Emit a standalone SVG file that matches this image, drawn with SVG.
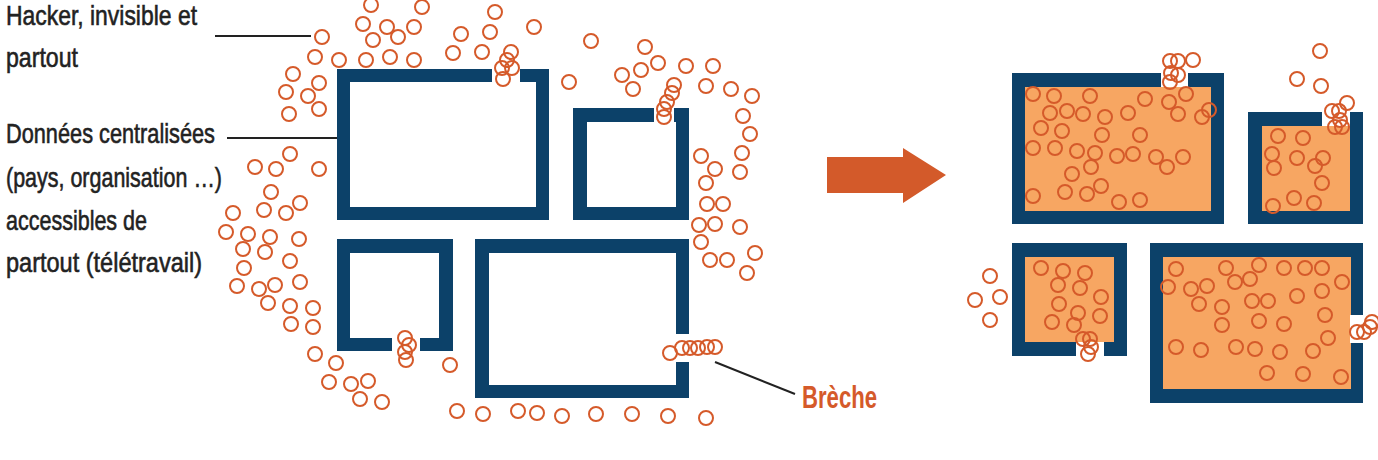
<svg xmlns="http://www.w3.org/2000/svg" xmlns:xlink="http://www.w3.org/1999/xlink" width="1378" height="460" viewBox="0 0 1378 460">
  <style>
    .frame { fill: #0c4169; }
    .room { fill: #ffffff; }
    .room-full { fill: #f7a662; }
    .gap { fill: #ffffff; }
    .h { fill: none; stroke: #d55a2a; stroke-width: 2; }
    .label { font-family: "Liberation Sans", Arial, sans-serif; font-size: 28px; fill: #222222; stroke: #222222; stroke-width: 0.6; }
    .accent { font-family: "Liberation Sans", Arial, sans-serif; font-size: 32px; font-weight: bold; fill: #d55a2a; }
    .lead { stroke: #222222; stroke-width: 2; fill: none; }
  </style>

  <!-- Labels -->
  <g id="label-hacker">
    <text class="label" x="6" y="25" textLength="191" lengthAdjust="spacingAndGlyphs">Hacker, invisible et</text>
    <text class="label" x="6" y="67" textLength="72" lengthAdjust="spacingAndGlyphs">partout</text>
  </g>
  <g id="label-data">
    <text class="label" x="6" y="143" textLength="209" lengthAdjust="spacingAndGlyphs">Données centralisées</text>
    <text class="label" x="6" y="187" textLength="216" lengthAdjust="spacingAndGlyphs">(pays, organisation …)</text>
    <text class="label" x="6" y="230" textLength="141" lengthAdjust="spacingAndGlyphs">accessibles de</text>
    <text class="label" x="6" y="272" textLength="196" lengthAdjust="spacingAndGlyphs">partout (télétravail)</text>
  </g>
  <g id="label-breche">
    <text class="accent" x="802" y="408" textLength="75" lengthAdjust="spacingAndGlyphs">Brèche</text>
  </g>

  <!-- Connectors -->
  <g id="connectors">
    <line class="lead" x1="215" y1="36" x2="311" y2="36"/>
    <line class="lead" x1="227" y1="138" x2="338" y2="138"/>
    <line class="lead" x1="715" y1="362" x2="795" y2="394"/>
  </g>

  <!-- Before: rooms with a single breach each -->
  <g id="room-a">
    <rect class="frame" x="337" y="69" width="212" height="151"/>
    <rect class="room" x="350" y="82" width="186" height="125"/>
    <rect class="gap" x="492" y="68" width="28" height="15"/>
  </g>
  <g id="room-b">
    <rect class="frame" x="573" y="108" width="116" height="112"/>
    <rect class="room" x="587" y="122" width="89" height="85"/>
    <rect class="gap" x="654" y="107" width="20" height="16"/>
  </g>
  <g id="room-c">
    <rect class="frame" x="337" y="239" width="116" height="112"/>
    <rect class="room" x="350" y="253" width="89" height="85"/>
    <rect class="gap" x="392" y="337" width="28" height="15"/>
  </g>
  <g id="room-d">
    <rect class="frame" x="475" y="239" width="214" height="159"/>
    <rect class="room" x="489" y="253" width="187" height="132"/>
    <rect class="gap" x="675" y="334" width="15" height="28"/>
  </g>

  <!-- Transition arrow -->
  <g id="arrow">
    <polygon fill="#d35a2a" points="827,157 903,157 903,148 946,175 903,203 903,193 827,193"/>
  </g>

  <!-- After: rooms filled -->
  <g id="room-a-full">
    <rect class="frame" x="1012" y="73" width="212" height="151"/>
    <rect class="room-full" x="1025" y="87" width="186" height="124"/>
    <rect class="gap" x="1161" y="72" width="27" height="15"/>
  </g>
  <g id="room-b-full">
    <rect class="frame" x="1248" y="112" width="115" height="112"/>
    <rect class="room-full" x="1262" y="126" width="88" height="85"/>
    <rect class="gap" x="1322" y="111" width="28" height="15"/>
  </g>
  <g id="room-c-full">
    <rect class="frame" x="1012" y="243" width="115" height="113"/>
    <rect class="room-full" x="1025" y="257" width="89" height="85"/>
    <rect class="gap" x="1076" y="342" width="28" height="15"/>
  </g>
  <g id="room-d-full">
    <rect class="frame" x="1150" y="243" width="213" height="160"/>
    <rect class="room-full" x="1163" y="257" width="188" height="132"/>
    <rect class="gap" x="1350" y="315" width="14" height="28"/>
  </g>

  <!-- Intruders around the rooms -->
  <g id="swarm-before" class="h">
    <circle cx="322" cy="37" r="7"/><circle cx="315" cy="57" r="7"/><circle cx="339" cy="60" r="7"/>
    <circle cx="293" cy="74" r="7"/><circle cx="319" cy="83" r="7"/><circle cx="286" cy="92" r="7"/>
    <circle cx="308" cy="96" r="7"/><circle cx="319" cy="109" r="7"/><circle cx="289" cy="114" r="7"/>
    <circle cx="290" cy="154" r="7"/><circle cx="255" cy="167" r="7"/><circle cx="276" cy="169" r="7"/>
    <circle cx="319" cy="169" r="7"/><circle cx="271" cy="192" r="7"/><circle cx="300" cy="203" r="7"/>
    <circle cx="264" cy="210" r="7"/><circle cx="286" cy="213" r="7"/><circle cx="233" cy="213" r="7"/>
    <circle cx="226" cy="232" r="7"/><circle cx="248" cy="234" r="7"/><circle cx="270" cy="237" r="7"/>
    <circle cx="299" cy="239" r="7"/><circle cx="243" cy="249" r="7"/><circle cx="265" cy="252" r="7"/>
    <circle cx="290" cy="261" r="7"/><circle cx="244" cy="268" r="7"/><circle cx="237" cy="286" r="7"/>
    <circle cx="259" cy="289" r="7"/><circle cx="275" cy="285" r="7"/><circle cx="300" cy="282" r="7"/>
    <circle cx="268" cy="303" r="7"/><circle cx="290" cy="306" r="7"/><circle cx="313" cy="308" r="7"/>
    <circle cx="291" cy="324" r="7"/><circle cx="313" cy="327" r="7"/><circle cx="315" cy="354" r="7"/>
    <circle cx="336" cy="363" r="7"/><circle cx="329" cy="382" r="7"/><circle cx="351" cy="384" r="7"/>
    <circle cx="368" cy="381" r="7"/><circle cx="360" cy="399" r="7"/><circle cx="382" cy="402" r="7"/>
    <circle cx="450" cy="365" r="7"/>
    <!-- lower row -->
    <circle cx="457" cy="411" r="7"/><circle cx="483" cy="414" r="7"/><circle cx="518" cy="411" r="7"/>
    <circle cx="537" cy="413" r="7"/><circle cx="562" cy="416" r="7"/><circle cx="596" cy="414" r="7"/>
    <circle cx="632" cy="414" r="7"/><circle cx="668" cy="416" r="7"/><circle cx="706" cy="418" r="7"/>
    <!-- top -->
    <circle cx="371" cy="5" r="7"/><circle cx="422" cy="7" r="7"/><circle cx="363" cy="24" r="7"/>
    <circle cx="387" cy="27" r="7"/><circle cx="414" cy="27" r="7"/><circle cx="373" cy="40" r="7"/>
    <circle cx="398" cy="37" r="7"/><circle cx="495" cy="12" r="7"/><circle cx="461" cy="34" r="7"/>
    <circle cx="490" cy="32" r="7"/><circle cx="534" cy="27" r="7"/><circle cx="366" cy="60" r="7"/>
    <circle cx="390" cy="57" r="7"/><circle cx="414" cy="60" r="7"/><circle cx="453" cy="53" r="7"/>
    <circle cx="482" cy="52" r="7"/><circle cx="569" cy="82" r="7"/><circle cx="591" cy="41" r="7"/>
    <circle cx="645" cy="47" r="7"/><circle cx="622" cy="75" r="7"/><circle cx="641" cy="70" r="7"/>
    <circle cx="658" cy="63" r="7"/><circle cx="686" cy="66" r="7"/><circle cx="713" cy="66" r="7"/>
    <circle cx="633" cy="89" r="7"/><circle cx="706" cy="86" r="7"/><circle cx="731" cy="89" r="7"/>
    <!-- right side -->
    <circle cx="752" cy="96" r="7"/><circle cx="743" cy="116" r="7"/><circle cx="750" cy="134" r="7"/>
    <circle cx="701" cy="156" r="7"/><circle cx="742" cy="153" r="7"/><circle cx="715" cy="169" r="7"/>
    <circle cx="740" cy="172" r="7"/><circle cx="706" cy="183" r="7"/><circle cx="707" cy="204" r="7"/>
    <circle cx="723" cy="204" r="7"/><circle cx="699" cy="225" r="7"/><circle cx="715" cy="224" r="7"/>
    <circle cx="740" cy="227" r="7"/><circle cx="701" cy="242" r="7"/><circle cx="755" cy="253" r="7"/>
    <circle cx="710" cy="260" r="7"/><circle cx="727" cy="260" r="7"/><circle cx="747" cy="273" r="7"/>
    <!-- at the breaches -->
    <circle cx="511" cy="52" r="7"/><circle cx="507" cy="60" r="7"/><circle cx="502" cy="68" r="7"/>
    <circle cx="512" cy="68" r="7"/><circle cx="503" cy="79" r="7"/>
    <circle cx="674" cy="85" r="7"/><circle cx="672" cy="93" r="7"/><circle cx="667" cy="102" r="7"/>
    <circle cx="664" cy="109" r="7"/><circle cx="664" cy="117" r="7"/>
    <circle cx="405" cy="338" r="7"/><circle cx="409" cy="345" r="7"/><circle cx="405" cy="352" r="7"/>
    <circle cx="406" cy="360" r="7"/>
    <circle cx="670" cy="353" r="7"/><circle cx="682" cy="348" r="7"/><circle cx="690" cy="348" r="7"/>
    <circle cx="698" cy="348" r="7"/><circle cx="707" cy="347" r="7"/><circle cx="715" cy="347" r="7"/>
  </g>

  <g id="swarm-after" class="h">
    <!-- room a -->
    <circle cx="1033" cy="94" r="7"/><circle cx="1054" cy="96" r="7"/><circle cx="1090" cy="96" r="7"/>
    <circle cx="1050" cy="113" r="7"/><circle cx="1067" cy="111" r="7"/><circle cx="1083" cy="114" r="7"/>
    <circle cx="1105" cy="117" r="7"/><circle cx="1128" cy="113" r="7"/><circle cx="1145" cy="99" r="7"/>
    <circle cx="1169" cy="102" r="7"/><circle cx="1186" cy="94" r="7"/><circle cx="1178" cy="114" r="7"/>
    <circle cx="1202" cy="117" r="7"/><circle cx="1209" cy="110" r="7"/><circle cx="1041" cy="128" r="7"/>
    <circle cx="1062" cy="131" r="7"/><circle cx="1102" cy="135" r="7"/><circle cx="1140" cy="135" r="7"/>
    <circle cx="1033" cy="148" r="7"/><circle cx="1055" cy="148" r="7"/><circle cx="1077" cy="151" r="7"/>
    <circle cx="1095" cy="153" r="7"/><circle cx="1117" cy="156" r="7"/><circle cx="1133" cy="154" r="7"/>
    <circle cx="1156" cy="157" r="7"/><circle cx="1167" cy="167" r="7"/><circle cx="1183" cy="157" r="7"/>
    <circle cx="1091" cy="167" r="7"/><circle cx="1072" cy="174" r="7"/><circle cx="1101" cy="186" r="7"/>
    <circle cx="1033" cy="196" r="7"/><circle cx="1065" cy="192" r="7"/><circle cx="1087" cy="194" r="7"/>
    <circle cx="1119" cy="202" r="7"/><circle cx="1140" cy="200" r="7"/>
    <circle cx="1170" cy="61" r="7"/><circle cx="1178" cy="61" r="7"/><circle cx="1193" cy="60" r="7"/>
    <circle cx="1171" cy="73" r="7"/><circle cx="1178" cy="75" r="7"/><circle cx="1170" cy="82" r="7"/>
    <!-- room b -->
    <circle cx="1320" cy="51" r="7"/><circle cx="1297" cy="79" r="7"/><circle cx="1321" cy="86" r="7"/>
    <circle cx="1347" cy="103" r="7"/><circle cx="1332" cy="111" r="7"/><circle cx="1339" cy="111" r="7"/>
    <circle cx="1340" cy="120" r="7"/><circle cx="1335" cy="127" r="7"/><circle cx="1342" cy="127" r="7"/>
    <circle cx="1278" cy="136" r="7"/><circle cx="1303" cy="138" r="7"/><circle cx="1272" cy="154" r="7"/>
    <circle cx="1297" cy="158" r="7"/><circle cx="1323" cy="158" r="7"/><circle cx="1315" cy="166" r="7"/>
    <circle cx="1274" cy="168" r="7"/><circle cx="1322" cy="183" r="7"/><circle cx="1294" cy="198" r="7"/>
    <circle cx="1314" cy="203" r="7"/><circle cx="1273" cy="206" r="7"/>
    <!-- room c -->
    <circle cx="990" cy="276" r="7"/><circle cx="975" cy="300" r="7"/><circle cx="1000" cy="297" r="7"/>
    <circle cx="990" cy="320" r="7"/>
    <circle cx="1041" cy="268" r="7"/><circle cx="1063" cy="271" r="7"/><circle cx="1085" cy="273" r="7"/>
    <circle cx="1058" cy="285" r="7"/><circle cx="1080" cy="288" r="7"/><circle cx="1101" cy="297" r="7"/>
    <circle cx="1059" cy="304" r="7"/><circle cx="1078" cy="313" r="7"/><circle cx="1100" cy="316" r="7"/>
    <circle cx="1052" cy="322" r="7"/><circle cx="1074" cy="325" r="7"/>
    <circle cx="1083" cy="339" r="7"/><circle cx="1090" cy="339" r="7"/><circle cx="1091" cy="347" r="7"/>
    <circle cx="1088" cy="354" r="7"/>
    <!-- room d -->
    <circle cx="1176" cy="269" r="7"/><circle cx="1226" cy="268" r="7"/><circle cx="1259" cy="265" r="7"/>
    <circle cx="1284" cy="268" r="7"/><circle cx="1305" cy="268" r="7"/><circle cx="1322" cy="268" r="7"/>
    <circle cx="1168" cy="287" r="7"/><circle cx="1191" cy="289" r="7"/><circle cx="1207" cy="286" r="7"/>
    <circle cx="1235" cy="282" r="7"/><circle cx="1250" cy="279" r="7"/><circle cx="1342" cy="282" r="7"/>
    <circle cx="1199" cy="304" r="7"/><circle cx="1222" cy="307" r="7"/><circle cx="1252" cy="301" r="7"/>
    <circle cx="1268" cy="301" r="7"/><circle cx="1297" cy="296" r="7"/><circle cx="1322" cy="291" r="7"/>
    <circle cx="1222" cy="325" r="7"/><circle cx="1259" cy="321" r="7"/><circle cx="1284" cy="324" r="7"/>
    <circle cx="1325" cy="315" r="7"/><circle cx="1328" cy="338" r="7"/><circle cx="1176" cy="347" r="7"/>
    <circle cx="1201" cy="350" r="7"/><circle cx="1236" cy="347" r="7"/><circle cx="1255" cy="349" r="7"/>
    <circle cx="1280" cy="352" r="7"/><circle cx="1313" cy="351" r="7"/><circle cx="1267" cy="373" r="7"/>
    <circle cx="1303" cy="374" r="7"/><circle cx="1341" cy="377" r="7"/>
    <circle cx="1357" cy="332" r="7"/><circle cx="1364" cy="332" r="7"/><circle cx="1370" cy="327" r="7"/>
    <circle cx="1372" cy="322" r="7"/>
  </g>
</svg>
